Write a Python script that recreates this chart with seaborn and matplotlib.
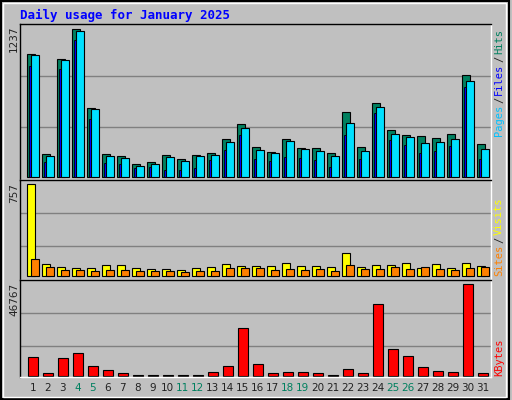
import matplotlib
matplotlib.use("Agg")
import matplotlib.pyplot as plt
import numpy as np
import seaborn as sns
from matplotlib.patches import Rectangle

DAYS = list(range(1, 32))
WEEKENDS = [4, 5, 11, 12, 18, 19, 25, 26]
HITS = [1027, 188, 986, 1237, 574, 188, 174, 104, 120, 179, 146, 179, 196, 314, 440,
        246, 204, 314, 238, 238, 196, 540, 246, 616, 389, 347, 339, 322, 356, 851, 272]
FILES = [1019, 171, 977, 1221, 566, 171, 154, 87, 104, 162, 129, 171, 179, 288, 406,
         221, 196, 297, 230, 213, 171, 448, 213, 582, 355, 330, 280, 288, 314, 801, 230]
PAGES = [927, 120, 902, 1146, 482, 112, 104, 70, 79, 53, 53, 70, 137, 221, 347,
         146, 129, 162, 154, 137, 79, 347, 146, 532, 305, 263, 196, 213, 255, 755, 146]
VISITS = [757, 99, 74, 66, 66, 90, 90, 66, 58, 58, 49, 66, 74, 99, 82,
          82, 82, 107, 82, 82, 74, 189, 74, 90, 90, 107, 66, 99, 66, 107, 82]
SITES = [140, 74, 49, 49, 41, 49, 49, 41, 41, 41, 33, 41, 41, 66, 66,
         66, 49, 58, 49, 58, 41, 90, 58, 58, 74, 58, 74, 58, 49, 66, 74]
KBYTES = [9390, 1195, 8878, 11438, 4780, 2731, 1195, 512, 512, 512, 512, 512, 1707, 4780, 24238,
          5804, 1195, 1707, 1707, 1195, 512, 3243, 1195, 36530, 13487, 9902, 4268, 2219, 1707, 46767, 1195]

BG = "#C0C0C0"
GRID = "#808080"

sns.set_style("white")
plt.rcParams["font.family"] = ["DejaVu Sans Mono", "DejaVu Sans"]

fig = plt.figure(figsize=(5.12, 4.0), dpi=100, facecolor=BG)
fig.patches.append(Rectangle((0.002, 0.003), 0.993, 0.994, transform=fig.transFigure,
                             fill=False, edgecolor="black", linewidth=1.5))
fig.patches.append(Rectangle((0.006, 0.008), 0.983, 0.984, transform=fig.transFigure,
                             fill=False, edgecolor="white", linewidth=1.0))

W, H = 512, 400
L, R = 20, 491


def make_ax(top, bot):
    ax = fig.add_axes([L / W, 1 - bot / H, (R - L) / W, (bot - top) / H])
    ax.set_facecolor(BG)
    for s in ["top", "left"]:
        ax.spines[s].set_color("black")
    for s in ["bottom", "right"]:
        ax.spines[s].set_color("white")
    for s in ax.spines.values():
        s.set_linewidth(1.0)
    ax.set_xlim(0.55, 31.95)
    ax.set_xticks([])
    ax.set_yticks([])
    return ax


def set_scale(ax, vmax, top, bot, ytop, ybot):
    per_px = vmax / (ybot - ytop)
    ax.set_ylim(-(bot - ybot) * per_px, (ybot - top) * per_px)
    return per_px


x = np.array(DAYS, dtype=float)

# top panel
ax1 = make_ax(24, 180)
pp = set_scale(ax1, 1237, 24, 180, 29.3, 176.7)
for g in (76.3, 127.3):
    ax1.axhline((176.7 - g) * pp, color=GRID, lw=1.0, zorder=0)
ax1.bar(x, HITS, width=0.53, align="edge", color="#00805F", edgecolor="black", lw=0.8, zorder=2)
ax1.bar(x + 0.12, PAGES, width=0.17, align="edge", color="#0000FF", edgecolor="black", lw=0.6, zorder=3)
ax1.bar(x + 0.27, FILES, width=0.53, align="edge", color="#00E0FF", edgecolor="black", lw=0.8, zorder=4)

# middle panel
ax2 = make_ax(180, 280)
pp = set_scale(ax2, 757, 180, 280, 184.3, 276.3)
for g in (213.3, 246.3):
    ax2.axhline((276.3 - g) * pp, color=GRID, lw=1.0, zorder=0)
ax2.bar(x, VISITS, width=0.53, align="edge", color="#FFFF00", edgecolor="black", lw=0.8, zorder=2)
ax2.bar(x + 0.27, SITES, width=0.53, align="edge", color="#FF8000", edgecolor="black", lw=0.8, zorder=3)

# bottom panel
ax3 = make_ax(280, 377)
pp = set_scale(ax3, 46767, 280, 377, 284.3, 375.7)
for g in (313.3, 346.3):
    ax3.axhline((375.7 - g) * pp, color=GRID, lw=1.0, zorder=0)
sns.barplot(x=x + 0.4, y=KBYTES, native_scale=True, width=0.67, color="#FF0000",
            saturation=1, edgecolor="black", linewidth=0.8, ax=ax3, zorder=2)
ax3.set_xlim(0.55, 31.95)
ax3.set_xticks([])
ax3.set_yticks([])

# day labels
for d in DAYS:
    px = L + (d + 0.4 - 0.55) / (31.95 - 0.55) * (R - L)
    fig.text(px / W, 1 - 388 / H, str(d), ha="center", va="center", fontsize=7.5,
             family="DejaVu Sans", color="#00805F" if d in WEEKENDS else "#222222")

fig.text(20 / W, 1 - 15 / H, "Daily usage for January 2025", color="#0000FF",
         fontsize=9, weight="bold", ha="left", va="center")

for val, y in (("1237", 26), ("757", 183), ("46767", 283)):
    fig.text(14 / W, 1 - y / H, val, rotation=90, ha="center", va="top",
             fontsize=7.5, family="DejaVu Sans", color="#222222")


def side(parts, ybottom):
    y = ybottom
    for txt, col in parts:
        fig.text(499 / W, 1 - y / H, txt, rotation=90, ha="center", va="bottom",
                 fontsize=7.5, color=col)
        y -= 6.2 * len(txt) + 2


side([("Pages", "#00C0FF"), ("/", "#222222"), ("Files", "#0000FF"), ("/", "#222222"),
      ("Hits", "#00805F")], 136)
side([("Sites", "#FF8000"), ("/", "#222222"), ("Visits", "#FFFF00")], 276)
side([("KBytes", "#FF0000")], 376)

fig.savefig("out.png", dpi=100, facecolor=BG)
